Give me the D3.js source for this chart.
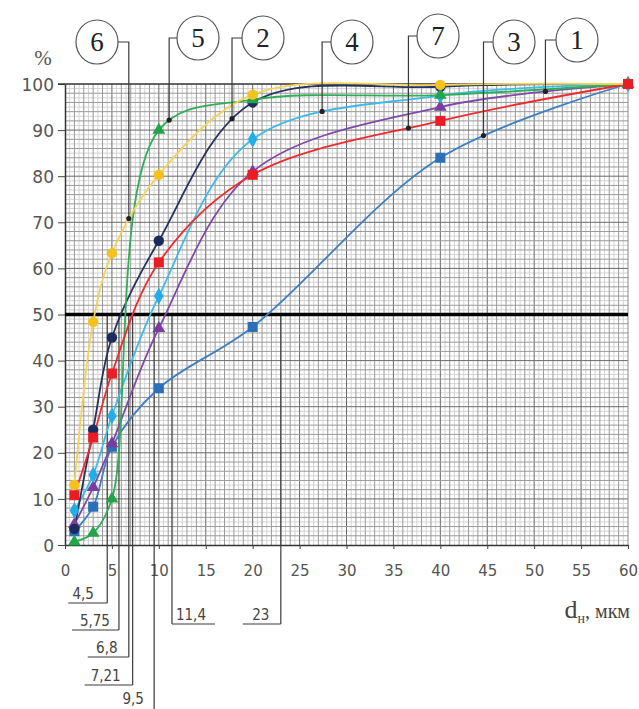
<!DOCTYPE html>
<html>
<head>
<meta charset="utf-8">
<script src="https://cdn.jsdelivr.net/npm/d3@7"></script>
<style>
  html, body { margin: 0; padding: 0; background: #fff; }
  svg { display: block; }
</style>
</head>
<body>
<svg id="chart" width="639" height="709"></svg>
<script>
// Particle size, µm (measurement points)
const sizes = [1, 3, 5, 10, 20, 40, 60];

// Cumulative passing, % for each sample curve
const curve1 = [4.5, 12.5, 22, 47, 81, 95, 100];
const curve2 = [3.5, 25, 45, 66, 96, 99.4, 100];
const curve3 = [3, 8.3, 21.3, 34, 47.3, 84, 100];
const curve4 = [7.5, 15.2, 28, 54, 88, 97.5, 100];
const curve5 = [0.7, 2.6, 10, 90, 96.6, 97.6, 100];
const curve6 = [13, 48.4, 63.3, 80.3, 97.7, 99.8, 100];
const curve7 = [10.8, 23.3, 37.2, 61.3, 80.3, 92, 100];

// Curve numbers, colours and marker shapes
const curveIds     = ["1", "2", "3", "4", "5", "6", "7"];
const curveColors  = ["#7a3c9e", "#1c2b5e", "#2b6fb8", "#22ade4", "#22a44a", "#f4c21a", "#ec1c24"];
const lineColors   = ["#7f4aa6", "#27325f", "#3f7fc0", "#3dbbe8", "#2fae57", "#f3d356", "#ee2a2f"];
const curveSymbols = ["triangle", "circle", "square", "diamond", "triangle", "circle", "square"];
const curveValues  = [curve1, curve2, curve3, curve4, curve5, curve6, curve7];

// Size at which each numbered label points onto its curve
const leaderX = [51.2, 17.8, 44.6, 27.4, 11.1, 6.8, 36.6];

// Median sizes d50 written under the axis
const medianLabels = ["4,5", "5,75", "6,8", "7,21", "9,5", "11,4", "23"];

// Axis ticks
const xTicks = [0, 5, 10, 15, 20, 25, 30, 35, 40, 45, 50, 55, 60];
const yTicks = [0, 10, 20, 30, 40, 50, 60, 70, 80, 90, 100];

const svg = d3.select("#chart");
const plotL = 65, plotR = 628, plotT = 84, plotB = 545;
const x = d3.scaleLinear().domain([0, 60]).range([plotL, plotR]);
const y = d3.scaleLinear().domain([0, 100]).range([plotB, plotT]);

// --- graph-paper grid ---
const grid = svg.append("g");
grid.selectAll("line.vm").data(d3.range(0.5, 60, 1)).join("line")
  .attr("x1", d => x(d)).attr("x2", d => x(d)).attr("y1", plotT).attr("y2", plotB)
  .attr("stroke", "#d4d4d4").attr("stroke-width", 1);
grid.selectAll("line.hm").data(d3.range(1, 100, 2)).join("line")
  .attr("y1", d => y(d)).attr("y2", d => y(d)).attr("x1", plotL).attr("x2", plotR)
  .attr("stroke", "#d4d4d4").attr("stroke-width", 1);
grid.selectAll("line.v").data(d3.range(1, 60, 1)).join("line")
  .attr("x1", d => x(d)).attr("x2", d => x(d)).attr("y1", plotT).attr("y2", plotB)
  .attr("stroke", d => d % 5 === 0 ? "#6a6a6a" : "#9a9a9a").attr("stroke-width", 1);
grid.selectAll("line.h").data(d3.range(2, 100, 2)).join("line")
  .attr("y1", d => y(d)).attr("y2", d => y(d)).attr("x1", plotL).attr("x2", plotR)
  .attr("stroke", d => d % 10 === 0 ? "#6a6a6a" : "#9a9a9a").attr("stroke-width", 1);
// right border
grid.append("line").attr("x1", plotR).attr("x2", plotR).attr("y1", plotT).attr("y2", plotB)
  .attr("stroke", "#8a8a8a");

// --- axes ---
const xAxis = svg.append("g").attr("transform", `translate(0,${plotB})`)
  .call(d3.axisBottom(x).tickValues(xTicks).tickSize(4).tickPadding(16).tickSizeOuter(0));
const yAxis = svg.append("g").attr("transform", `translate(${plotL},0)`)
  .call(d3.axisLeft(y).tickValues(yTicks).tickSize(7).tickPadding(4).tickSizeOuter(0));
[xAxis, yAxis].forEach(a => {
  a.select(".domain").attr("stroke", "#333").attr("stroke-width", 1.5);
  a.selectAll(".tick line").attr("stroke", "#444");
  a.selectAll("text").attr("fill", "#555").attr("font-family", "'DejaVu Sans', sans-serif");
});
xAxis.selectAll("text").attr("font-size", 15);
yAxis.selectAll("text").attr("font-size", 17).attr("dy", "0.36em");
// top edge of the frame
svg.append("line").attr("x1", plotL - 7).attr("x2", plotR).attr("y1", plotT).attr("y2", plotT)
  .attr("stroke", "#333").attr("stroke-width", 1.5);

// axis titles
svg.append("text").attr("x", 43).attr("y", 65).attr("text-anchor", "middle")
  .attr("font-family", "'Liberation Serif', serif").attr("font-size", 21).attr("fill", "#555").text("%");
const xt = svg.append("text").attr("x", 630).attr("y", 618).attr("text-anchor", "end")
  .attr("font-family", "'Liberation Serif', serif").attr("fill", "#444");
xt.append("tspan").attr("font-size", 26).text("d");
xt.append("tspan").attr("font-size", 14).attr("dy", 5).text("н");
xt.append("tspan").attr("font-size", 20).attr("dy", -5).text(", мкм");

// --- median drop lines with their labels under the axis ---
const labelRows = [
  { y: 603, len: 39, dx: -24, side: "left" },
  { y: 630, len: 47, dx: -24, side: "left" },
  { y: 657, len: 41, dx: -22, side: "left" },
  { y: 685, len: 48, dx: -27, side: "left" },
  { y: 715, len: 0,  dx: -21, side: "left" },
  { y: 624, len: 43, dx: 19,  side: "right" },
  { y: 624, len: 38, dx: -20, side: "left" }
];
const drops = svg.append("g");
medianLabels.forEach((lab, i) => {
  const v = +lab.replace(",", ".");
  const px = x(v);
  const r = labelRows[i];
  drops.append("line").attr("x1", px).attr("x2", px).attr("y1", y(50)).attr("y2", r.y)
    .attr("stroke", "#3a3a3a").attr("stroke-width", 1.2);
  if (r.len > 0) {
    const x0 = r.side === "left" ? px - r.len : px;
    drops.append("line").attr("x1", x0).attr("x2", x0 + r.len).attr("y1", r.y).attr("y2", r.y)
      .attr("stroke", "#3a3a3a").attr("stroke-width", 1.2);
  }
  const ty = r.len > 0 ? r.y - 4 : 704;
  drops.append("text").attr("x", px + r.dx).attr("y", ty).attr("text-anchor", "middle")
    .attr("font-family", "'DejaVu Sans Condensed', 'DejaVu Sans', sans-serif")
    .attr("font-size", 15).attr("fill", "#444").text(lab);
});

// --- 50 % reference line ---
svg.append("line").attr("x1", plotL).attr("x2", plotR).attr("y1", y(50)).attr("y2", y(50))
  .attr("stroke", "#000").attr("stroke-width", 3.5);

// --- curves ---
const line = d3.line().x(d => x(d[0])).y(d => y(d[1])).curve(d3.curveCatmullRom.alpha(0.5));
const drawOrder = [2, 0, 3, 1, 4, 6, 5];
const paths = {};
drawOrder.forEach(i => {
  const pts = sizes.map((s, k) => [s, curveValues[i][k]]);
  paths[i] = svg.append("path").datum(pts).attr("d", line)
    .attr("fill", "none").attr("stroke", lineColors[i]).attr("stroke-width", 1.8);
});

// --- markers ---
const symbolType = { triangle: d3.symbolTriangle, circle: d3.symbolCircle, square: d3.symbolSquare, diamond: d3.symbolDiamond };
const symbolSize = { triangle: 70, circle: 85, square: 100, diamond: 80 };
const markers = [];
drawOrder.forEach(i => sizes.forEach((s, k) => markers.push({ i, s, v: curveValues[i][k] })));
// the red series sits on top at the common end point
markers.sort((a, b) => (a.s === 60 && a.i === 6 ? 1 : 0) - (b.s === 60 && b.i === 6 ? 1 : 0));
svg.append("g").selectAll("path").data(markers).join("path")
  .attr("d", d => d3.symbol(symbolType[curveSymbols[d.i]], symbolSize[curveSymbols[d.i]])())
  .attr("transform", d => `translate(${x(d.s)},${y(d.v)})`)
  .attr("fill", d => curveColors[d.i]);

// --- numbered labels with leaders onto the curves ---
function pointOnPath(node, px) {
  let lo = 0, hi = node.getTotalLength();
  for (let n = 0; n < 40; n++) {
    const mid = (lo + hi) / 2;
    if (node.getPointAtLength(mid).x < px) lo = mid; else hi = mid;
  }
  return node.getPointAtLength((lo + hi) / 2);
}
const badgePos = [[577, 40], [263, 38], [514, 42], [352, 42], [198, 38], [97, 42], [438, 36]];
const badges = svg.append("g");
curveIds.forEach((id, i) => {
  const px = x(leaderX[i]);
  const p = pointOnPath(paths[i].node(), px);
  const [cx, cy] = badgePos[i];
  const edge = cx > px ? cx - 21 : cx + 21;
  badges.append("path").attr("d", `M${edge},${cy}H${px}V${p.y}`)
    .attr("fill", "none").attr("stroke", "#3a3a3a").attr("stroke-width", 1.2);
  badges.append("circle").attr("cx", px).attr("cy", p.y).attr("r", 2.6).attr("fill", "#222");
  badges.append("ellipse").attr("cx", cx).attr("cy", cy).attr("rx", 21).attr("ry", 22)
    .attr("fill", "#fff").attr("stroke", "#555").attr("stroke-width", 1.2);
  badges.append("text").attr("x", cx).attr("y", cy + 9).attr("text-anchor", "middle")
    .attr("font-family", "'Liberation Serif', serif").attr("font-size", 27).attr("fill", "#222").text(id);
});
</script>
</body>
</html>
